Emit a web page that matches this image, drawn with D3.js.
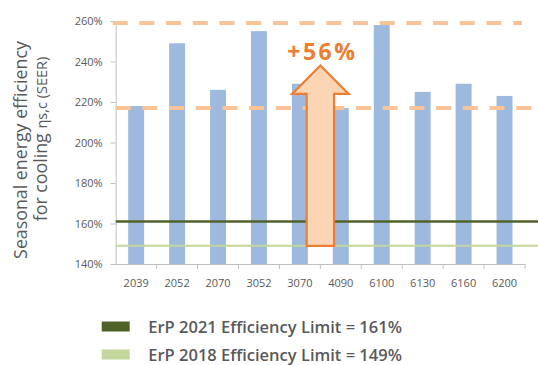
<!DOCTYPE html>
<html>
<head>
<meta charset="utf-8">
<script src="https://cdn.jsdelivr.net/npm/d3@7"></script>
<style>
  html, body { margin: 0; padding: 0; background: #fff; }
  svg { display: block; font-family: "Open Sans", sans-serif; }
</style>
</head>
<body>
<svg id="chart" width="538" height="365"></svg>
<script>
// ---- data ----
const categories = ["2039", "2052", "2070", "3052", "3070", "4090", "6100", "6130", "6160", "6200"];
const seerValues = [218, 249, 226, 255, 229, 217, 258, 225, 229, 223];
const yTicks = [140, 160, 180, 200, 220, 240, 260];
const limitNames = ["ErP 2021 Efficiency Limit", "ErP 2018 Efficiency Limit"];
const limitValues = [161, 149];
const dashedLevels = [259, 217];
const arrowLevels = [149, 224, 238]; // shaft bottom, head base, tip
const arrowLabel = "+56%";

(function () {
// ---- layout ----
const svg = d3.select("#chart");
const plotLeft = 115.7, plotRight = 525, plotTop = 21, plotBottom = 264;

const x = d3.scaleBand().domain(categories).range([plotLeft, plotRight]).padding(0);
const y = d3.scaleLinear().domain([140, 260]).range([plotBottom, plotTop]);

const grey = "#595959", axisGrey = "#bfbfbf";
const barColor = "#9dbade";
const limitColors = ["#4f6228", "#c3d69b"];
const orange = "#ed7d31";

// bars
const barW = x.bandwidth() * 0.39;
svg.append("g").selectAll("rect").data(categories).join("rect")
  .attr("x", d => x(d) + x.bandwidth() / 2 - barW / 2)
  .attr("y", (d, i) => y(seerValues[i]))
  .attr("width", barW)
  .attr("height", (d, i) => y(140) - y(seerValues[i]))
  .attr("fill", barColor);

// y axis
const yAxis = d3.axisLeft(y).tickValues(yTicks).tickFormat(d => d + "%").tickSize(5).tickPadding(8);
const gy = svg.append("g").attr("transform", `translate(${plotLeft},0)`).call(yAxis);
gy.select(".domain").attr("stroke", axisGrey);
gy.selectAll(".tick line").attr("stroke", axisGrey);
gy.selectAll(".tick text").attr("fill", grey).attr("font-size", 11).attr("font-family", "Open Sans");

// x axis
const xAxis = d3.axisBottom(x).tickSize(0).tickPadding(15);
const gx = svg.append("g").attr("transform", `translate(0,${plotBottom})`).call(xAxis);
gx.select(".domain").attr("stroke", axisGrey);
gx.selectAll(".tick text").attr("fill", grey).attr("font-size", 11).attr("font-family", "Open Sans");
const boundaries = categories.map(c => x(c)).concat([plotRight]).slice(1);
gx.selectAll(".bnd").data(boundaries).join("line")
  .attr("x1", d => d).attr("x2", d => d).attr("y1", 0).attr("y2", 5)
  .attr("stroke", axisGrey);

// limit lines
svg.append("g").selectAll("line").data(limitValues).join("line")
  .attr("x1", plotLeft).attr("x2", 538)
  .attr("y1", d => y(d)).attr("y2", d => y(d))
  .attr("stroke", (d, i) => limitColors[i])
  .attr("stroke-width", (d, i) => i === 0 ? 2.5 : 2);

// dashed reference lines
svg.append("g").selectAll("line").data(dashedLevels).join("line")
  .attr("x1", (d, i) => i === 0 ? plotLeft - 3 : plotLeft)
  .attr("x2", (d, i) => i === 0 ? plotRight - 3 : 538)
  .attr("y1", d => y(d)).attr("y2", d => y(d))
  .attr("stroke", "#f9c398")
  .attr("stroke-width", 4)
  .attr("stroke-dasharray", "15,11.7");

// arrow
const cx = x("4090");
const shaftHalf = x.bandwidth() * 0.335;
const headHalf = x.bandwidth() * 0.69;
const [a0, a1, a2] = arrowLevels.map(v => y(v));
const arrowPts = [
  [cx - shaftHalf, a0], [cx - shaftHalf, a1], [cx - headHalf, a1],
  [cx, a2], [cx + headHalf, a1], [cx + shaftHalf, a1], [cx + shaftHalf, a0]
];
svg.append("path")
  .attr("d", d3.line()(arrowPts) + "Z")
  .attr("fill", "#fcd5b5")
  .attr("stroke", orange)
  .attr("stroke-width", 2.2)
  .attr("stroke-linejoin", "miter");

svg.append("text")
  .attr("x", cx + 2).attr("y", 60)
  .attr("text-anchor", "middle")
  .attr("font-size", 23).attr("font-weight", 700)
  .attr("letter-spacing", 2.5)
  .attr("fill", orange)
  .text(arrowLabel);

// y axis title
const title = svg.append("g").attr("transform", "rotate(-90)");
title.append("text")
  .attr("x", -150).attr("y", 27)
  .attr("text-anchor", "middle").attr("font-size", 17.8).attr("fill", grey)
  .text("Seasonal energy efficiency");
const t2 = title.append("text")
  .attr("x", -139).attr("y", 47)
  .attr("text-anchor", "middle").attr("font-size", 17.8).attr("fill", grey);
t2.append("tspan").text("for cooling ");
t2.append("tspan").attr("font-size", 14.5).text("ηs,c (SEER)");

// legend
const legend = svg.append("g").selectAll("g").data(limitNames).join("g")
  .attr("transform", (d, i) => `translate(101.7,${321.5 + i * 28})`);
legend.append("rect")
  .attr("width", 28).attr("height", 10)
  .attr("fill", (d, i) => limitColors[i]);
legend.append("text")
  .attr("x", 46.6).attr("y", 11.5)
  .attr("font-size", 16.5).attr("font-weight", 600).attr("fill", grey)
  .text((d, i) => `${d} = ${limitValues[i]}%`);
})();
</script>
</body>
</html>
